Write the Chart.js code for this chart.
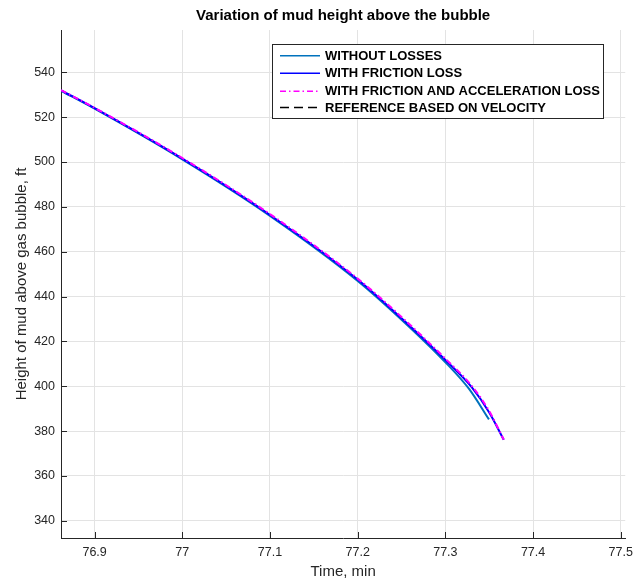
<!DOCTYPE html>
<html>
<head>
<meta charset="utf-8">
<script src="https://cdn.jsdelivr.net/npm/chart.js@4.4.1/dist/chart.umd.min.js"></script>
<style>
  html, body { margin: 0; padding: 0; background: #fff; }
</style>
</head>
<body>
<canvas id="mudChart" width="640" height="581"></canvas>
<script>
// Data
const timeWithout = [76.8617, 76.9, 77.0, 77.1, 77.2, 77.25, 77.3, 77.327, 77.3497];
const heightWithout = [531.8, 523.8, 501.2, 476.0, 447.0, 429.7, 410.7, 398.8, 385.2];

const timeFriction = [76.8617, 76.9, 77.0, 77.1, 77.2, 77.25, 77.3, 77.33, 77.35, 77.3666];
const heightFriction = [532.0, 524.0, 501.5, 476.4, 447.6, 430.3, 411.7, 399.6, 388.3, 376.1];

const timeAccel = [76.8617, 76.9, 77.0, 77.1, 77.2, 77.25, 77.3, 77.33, 77.35, 77.3666];
const heightAccel = [532.1, 524.2, 501.8, 476.8, 448.0, 430.9, 412.3, 400.2, 388.9, 376.2];

// reference curve is listed in the legend but not visible in the plotted range
const timeReference = [];
const heightReference = [];

const xTicks = [76.9, 77, 77.1, 77.2, 77.3, 77.4, 77.5];
const yTicks = [340, 360, 380, 400, 420, 440, 460, 480, 500, 520, 540];

const seriesNames = [
    'WITHOUT LOSSES',
    'WITH FRICTION LOSS',
    'WITH FRICTION AND ACCELERATION LOSS',
    'REFERENCE BASED ON VELOCITY'
];

const FONT = '"Liberation Sans", Arial, Helvetica, sans-serif';
const AXIS_COLOR = '#262626';

function toPoints(xs, ys) {
    return xs.map((x, i) => ({ x: x, y: ys[i] }));
}

const lineStyles = [
    { color: '#0072BD', dash: [] },
    { color: '#0000FF', dash: [] },
    { color: '#FF00FF', dash: [6, 3, 1.5, 3] },
    { color: '#000000', dash: [9, 5] }
];

// Title, inward ticks and boxed legend, MATLAB style
const matlabLook = {
    id: 'matlabLook',
    afterDraw(chart) {
        const ctx = chart.ctx;
        const area = chart.chartArea;
        const xScale = chart.scales.x;
        const yScale = chart.scales.y;

        ctx.save();
        // inward ticks
        ctx.strokeStyle = AXIS_COLOR;
        ctx.lineWidth = 1;
        ctx.beginPath();
        xTicks.forEach(v => {
            const px = Math.round(xScale.getPixelForValue(v)) + 0.5;
            ctx.moveTo(px, area.bottom);
            ctx.lineTo(px, area.bottom - 6);
        });
        yTicks.forEach(v => {
            const py = Math.round(yScale.getPixelForValue(v)) + 0.5;
            ctx.moveTo(area.left, py);
            ctx.lineTo(area.left + 6, py);
        });
        ctx.stroke();

        // title
        ctx.fillStyle = '#000';
        ctx.font = 'bold 15px ' + FONT;
        ctx.textAlign = 'center';
        ctx.textBaseline = 'middle';
        ctx.fillText('Variation of mud height above the bubble', (area.left + area.right) / 2, 16);

        // legend
        const boxX = 272.5, boxY = 44.5, boxW = 331, boxH = 74;
        ctx.fillStyle = '#fff';
        ctx.fillRect(boxX, boxY, boxW, boxH);
        ctx.strokeStyle = AXIS_COLOR;
        ctx.setLineDash([]);
        ctx.strokeRect(boxX, boxY, boxW, boxH);

        ctx.font = 'bold 13px ' + FONT;
        ctx.textAlign = 'left';
        const rowY = [55.7, 73.3, 91.3, 107.5];
        seriesNames.forEach((name, i) => {
            const st = lineStyles[i];
            ctx.strokeStyle = st.color;
            ctx.lineWidth = 1.5;
            ctx.setLineDash(st.dash);
            ctx.beginPath();
            ctx.moveTo(280, rowY[i]);
            ctx.lineTo(320, rowY[i]);
            ctx.stroke();
            ctx.fillStyle = '#000';
            ctx.fillText(name, 325, rowY[i] + 0.5);
        });
        ctx.restore();
    }
};

const datasets = [
    [timeWithout, heightWithout],
    [timeFriction, heightFriction],
    [timeAccel, heightAccel],
    [timeReference, heightReference]
].map((pair, i) => ({
    label: seriesNames[i],
    data: toPoints(pair[0], pair[1]),
    borderColor: lineStyles[i].color,
    borderDash: lineStyles[i].dash,
    borderWidth: 2,
    pointRadius: 0,
    fill: false,
    cubicInterpolationMode: 'monotone',
    order: 4 - i
}));

new Chart(document.getElementById('mudChart'), {
    type: 'line',
    data: { datasets: datasets },
    options: {
        responsive: false,
        animation: false,
        layout: { padding: { top: 30, right: 9, left: 0, bottom: 0 } },
        plugins: {
            legend: { display: false },
            title: { display: false },
            tooltip: { enabled: false }
        },
        scales: {
            x: {
                type: 'linear',
                min: 76.8617,
                max: 77.5051,
                afterBuildTicks: scale => { scale.ticks = xTicks.map(v => ({ value: v })); },
                afterFit: scale => { scale.height = 43; },
                ticks: {
                    color: AXIS_COLOR,
                    font: { family: FONT, size: 12.5 },
                    padding: 7,
                    maxRotation: 0,
                    autoSkip: false,
                    callback: v => String(v)
                },
                grid: { color: '#e3e3e3', drawTicks: false },
                border: { display: true, color: AXIS_COLOR, width: 1 },
                title: {
                    display: true,
                    text: 'Time, min',
                    color: AXIS_COLOR,
                    font: { family: FONT, size: 15 },
                    padding: { top: 0, bottom: 0 }
                }
            },
            y: {
                type: 'linear',
                min: 332.3,
                max: 558.9,
                afterBuildTicks: scale => { scale.ticks = yTicks.map(v => ({ value: v })); },
                afterFit: scale => { scale.width = 61; },
                ticks: {
                    color: AXIS_COLOR,
                    font: { family: FONT, size: 12.5 },
                    padding: 6,
                    autoSkip: false,
                    callback: v => String(v)
                },
                grid: { color: '#e3e3e3', drawTicks: false },
                border: { display: true, color: AXIS_COLOR, width: 1 },
                title: {
                    display: true,
                    text: 'Height of mud above gas bubble, ft',
                    color: AXIS_COLOR,
                    font: { family: FONT, size: 15 },
                    padding: { top: 13, bottom: 0 }
                }
            }
        }
    },
    plugins: [matlabLook]
});
</script>
</body>
</html>
